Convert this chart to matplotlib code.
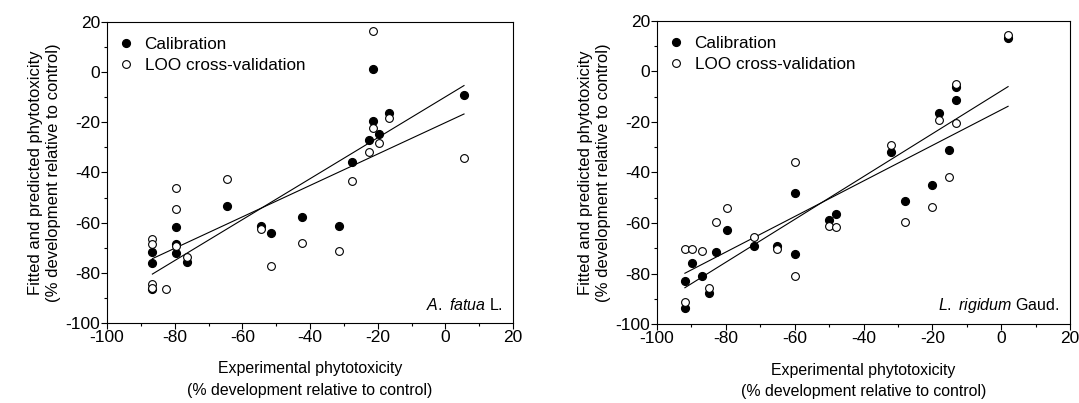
import numpy as np
import matplotlib
matplotlib.use("Agg")
import matplotlib.pyplot as plt
from matplotlib.ticker import MultipleLocator

plt.rcParams['font.family'] = ['Liberation Sans', 'DejaVu Sans']
plt.rcParams['mathtext.fontset'] = 'custom'
plt.rcParams['mathtext.rm'] = 'Liberation Sans'
plt.rcParams['mathtext.it'] = 'Liberation Sans:italic'
plt.rcParams['axes.unicode_minus'] = False

# A. fatua L.
af_exp = [-86.6, -86.6, -86.6, -82.6, -79.5, -79.5, -79.5, -76.4, -64.5, -54.5,
          -51.4, -42.5, -31.4, -27.5, -22.5, -21.5, -21.5, -19.5, -16.6, 5.5]
af_cal = [-71.9, -76.0, -86.7, None, -61.7, -68.7, -72.0, -75.9, -53.4, -61.4,
          -64.1, -57.7, -61.3, -35.7, -27.1, 1.2, -19.5, -24.8, -16.2, -9.1]
af_loo = [-66.5, -68.7, -84.7, -86.7, -46.0, -54.5, -69.4, -73.6, -42.7, -62.7,
          -77.4, -68.3, -71.4, -43.3, -31.9, 16.4, -22.2, -28.2, -18.4, -34.4]
af_loo_extra_x = [-86.6]
af_loo_extra_y = [-86.0]

# L. rigidum Gaud.
lr_exp = [-91.9, -91.9, -89.8, -86.8, -84.8, -82.9, -79.8, -71.9, -65.0, -60.0,
          -60.0, -49.9, -47.9, -32.0, -28.0, -20.0, -18.0, -15.1, -13.0, -13.0, 2.0]
lr_cal = [-93.5, -83.1, -76.0, -80.9, -87.6, -71.4, -62.9, -69.2, -69.1, -48.0,
          -72.3, -58.8, -56.3, -31.8, -51.4, -45.0, -16.4, -31.1, -6.3, -11.3, 13.1]
lr_loo = [-91.3, -70.4, -70.3, -71.0, -85.9, -59.6, -53.9, -65.4, -70.4, -35.7,
          -81.0, -61.2, -61.5, -29.1, -59.6, -53.8, -19.1, -41.7, -5.0, -20.5, 14.5]

# fitted regression lines (slope, intercept)
af_lines = [(0.817, -9.8), (0.627, -20.1)]
lr_lines = [(0.848, -7.7), (0.704, -15.2)]

fig = plt.figure(figsize=(10.79, 4.03), dpi=100)
ax1 = fig.add_axes([0.0992, 0.199, 0.3763, 0.746])
ax2 = fig.add_axes([0.6089, 0.196, 0.3828, 0.752])

ylab = "Fitted and predicted phytotoxicity\n(% development relative to control)"
xlab = "Experimental phytotoxicity\n(% development relative to control)"


def panel(ax, x, ycal, yloo, lines, species, ex_x=(), ex_y=()):
    x = np.array(x, dtype=float)
    yc = np.array([np.nan if v is None else v for v in ycal], dtype=float)
    yl = np.array(yloo, dtype=float)
    xr = np.array([x.min(), x.max()])
    for m, b in lines:
        ax.plot(xr, m * xr + b, color='black', lw=0.8)
    ax.plot(x, yc, 'o', color='black', ms=5.6, label='Calibration')
    ax.plot(list(x) + list(ex_x), list(yl) + list(ex_y), 'o', mfc='white',
            mec='black', mew=0.8, ms=5.6, label='LOO cross-validation')
    ax.set_xlim(-100, 20)
    ax.set_ylim(-100, 20)
    ax.xaxis.set_major_locator(MultipleLocator(20))
    ax.yaxis.set_major_locator(MultipleLocator(20))
    ax.xaxis.set_minor_locator(MultipleLocator(10))
    ax.yaxis.set_minor_locator(MultipleLocator(10))
    ax.tick_params(which='major', length=4, width=0.8, labelsize=12.5, pad=1)
    ax.tick_params(which='minor', length=2.5, width=0.8)
    ax.set_xlabel(xlab, fontsize=11.4, labelpad=12, linespacing=1.55)
    ax.set_ylabel(ylab, fontsize=12, labelpad=3, linespacing=1.25)
    ax.legend(loc='upper left', bbox_to_anchor=(0.0, 0.98), frameon=False,
              fontsize=12.3, handletextpad=0.5, labelspacing=0.35,
              borderaxespad=0.3, handlelength=1.2, borderpad=0.2)
    ax.text(0.975, 0.06, species, transform=ax.transAxes, ha='right',
            va='center', fontsize=11.5)


panel(ax1, af_exp, af_cal, af_loo, af_lines, r"$\it{A.\ fatua}$ L.",
      af_loo_extra_x, af_loo_extra_y)
panel(ax2, lr_exp, lr_cal, lr_loo, lr_lines, r"$\it{L.\ rigidum}$ Gaud.")

fig.savefig("out.png", dpi=100)
